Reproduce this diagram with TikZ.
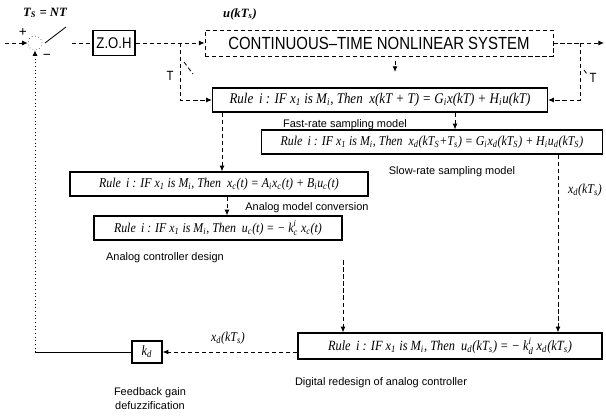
\documentclass[tikz,border=0pt]{standalone}
\usepackage{amsmath}
\usepackage{fontspec}
\setmainfont{Liberation Serif}
\setsansfont{Liberation Sans}
\newfontfamily\narrowsf[FakeStretch=0.85]{Liberation Sans}
\newfontfamily\narrowrm[FakeStretch=0.88]{Liberation Serif}
\usetikzlibrary{arrows.meta,positioning}
\newcommand\sbs[1]{\textsubscript{#1}}
\newcommand\gain[2]{$\text{k}^{\text{#2}}_{\text{#1}}$}
\newcommand\ifpart{Rule \,i : IF x\sbs{1} is M\sbs{i}, Then\ \ }

\begin{document}
\begin{tikzpicture}[x=0.025cm, y=-0.025cm,
		rule/.style={
			draw,
			line width=0.9pt,
			inner sep=0pt,
			minimum height=0.6cm,
			font=\narrowrm\fontsize{9.6}{11}\selectfont\itshape
		},
		lbl/.style={font=\sffamily\fontsize{7.8}{9}\selectfont, inner sep=0pt},
		var/.style={font=\narrowrm\itshape\fontsize{9.6}{11}\selectfont, inner sep=0pt},
		wire/.style={line width=0.6pt, densely dashed},
		arr/.style={wire, -{Latex[length=4pt, width=3.5pt]}}
		]
		\useasboundingbox (0,0) rectangle (606,415);
		
		% Summing point and sampler
		\node[circle, draw, dotted, minimum size=0.35cm, inner sep=0pt] (sum) at (35,43) {};
		\node[font=\bfseries\fontsize{10}{10}\selectfont] (plus) at (23,33) {+};
		\node[font=\bfseries\fontsize{10}{10}\selectfont] (minus) at (47,57) {−};
		\node[var, font=\bfseries\itshape\fontsize{9}{10}\selectfont] (tslbl) at (45,13) {T\sbs{S} = NT};
		
		% Top row
		\node[draw, line width=0.9pt, minimum width=1.05cm, minimum height=0.625cm, inner sep=0pt,
			font=\narrowsf\fontsize{11}{12}\selectfont] (zoh) at (114,43) {Z.O.H};
		\node[draw, densely dashed, line width=0.5pt, minimum width=8.7cm, minimum height=0.65cm,
			inner sep=0pt, font=\narrowsf\fontsize{12.5}{14}\selectfont] (plant) at (379,43)
		{CONTINUOUS–TIME NONLINEAR SYSTEM};
		\node[var, font=\bfseries\itshape\fontsize{9}{10}\selectfont] (ulbl) at (240,14) {u(kT\sbs{s})};
		
		% Rule boxes
		\node[rule, minimum width=8.375cm, font=\narrowrm\fontsize{10.5}{12}\selectfont\itshape] (fast) at (380,100)
		{\ifpart x(kT + T) = G\sbs{i}x(kT) + H\sbs{i}u(kT)};
		\node[rule, minimum width=8.525cm] (slow) at (432,142)
		{\ifpart x\sbs{d}(kT\sbs{S}+T\sbs{s}) = G\sbs{i}x\sbs{d}(kT\sbs{S}) + H\sbs{i}u\sbs{d}(kT\sbs{S})};
		\node[rule, minimum width=7.45cm] (model) at (219,184)
		{\ifpart x\sbs{c}(t) = A\sbs{i}x\sbs{c}(t) + B\sbs{i}u\sbs{c}(t)};
		\node[rule, minimum width=6.2cm] (ctrl) at (218,228)
		{\ifpart u\sbs{c}(t) = − \gain{c}{i}\ x\sbs{c}(t)};
		\node[rule, minimum width=7.6cm, minimum height=0.65cm, font=\narrowrm\fontsize{10}{11}\selectfont\itshape] (dig) at (450,346)
		{\ifpart u\sbs{d}(kT\sbs{s}) = − \gain{d}{i}\ x\sbs{d}(kT\sbs{s})};
		\node[draw, line width=0.9pt, minimum width=0.75cm, minimum height=0.55cm, inner sep=0pt,
			font=\narrowrm\itshape\fontsize{10}{11}\selectfont] (kd) at (147,352) {k\sbs{d}};
		
		% Labels
		\node[lbl] (fastlbl) at (345,125) {Fast-rate sampling model};
		\node[lbl] (slowlbl) at (452,172) {Slow-rate sampling model};
		\node[lbl] (convlbl) at (307,208) {Analog model conversion};
		\node[lbl] (desiglbl) at (165,258) {Analog controller design};
		\node[lbl] (diglbl) at (381,383) {Digital redesign of analog controller};
		\node[lbl, align=center] (gainlbl) at (150,399) {Feedback gain\\[1pt]defuzzification};
		\node[var] (xdlbl) at (585,190) {x\sbs{d}(kT\sbs{s})};
		\node[var] (xdlbl2) at (228,338) {x\sbs{d}(kT\sbs{s})};
		\node[font=\narrowsf\fontsize{9.5}{10}\selectfont] (tleft) at (170,76) {T};
		\node[font=\narrowsf\fontsize{9.5}{10}\selectfont] (tright) at (593,78) {T};
		
		% Junction points
		\coordinate (in) at (5,43);
		\coordinate (swa) at (45,43);
		\coordinate (swb) at (66,27);
		\coordinate (swc) at (72,43);
		\coordinate (ubr) at (180,43);
		\coordinate (ybr) at (580,43);
		\coordinate (out) at (604,43);
		\coordinate (fb) at (35,352);
		\coordinate (xa) at (395,0);
		\coordinate (xb) at (455,0);
		\coordinate (xc) at (222,0);
		\coordinate (xd) at (227,0);
		\coordinate (xe) at (343,0);
		\coordinate (xf) at (558,0);
		
		% Forward path
		\draw[arr] (in) -- (sum.west);
		\draw[line width=0.6pt] (swa) -- (swb);
		\draw[wire] (swc) -- (zoh.west);
		\draw[arr] (zoh.east) -- (plant.west);
		\draw[wire] (plant.east) -- (ybr);
		\draw[arr] (ybr) -- (out);
		
		% Samplers T
		\draw[arr] (ubr) |- (fast.west);
		\draw[arr] (ybr) |- (fast.east);
		\draw[wire] (184,62) -- (193,74);
		\draw[wire] (584,70) -- (587,74);
		
		% Model chain
		\draw[arr, shorten <=3pt, shorten >=11pt] (plant.south -| xa) -- (fast.north -| xa);
		\draw[arr] (fast.south -| xb) -- (slow.north -| xb);
		\draw[arr] (fast.south -| xc) -- (model.north -| xc);
		\draw[arr] (model.south -| xd) -- (ctrl.north -| xd);
		\draw[arr, shorten <=14pt] (ctrl.south -| xe) -- (dig.north -| xe);
		\draw[arr] (slow.south -| xf) -- (dig.north -| xf);
		
		% Feedback
		\draw[arr] (dig.west |- kd.east) -- (kd.east);
		\draw[line width=0.6pt] (kd.west) -- (fb);
		\draw[line width=0.6pt, dotted, -{Latex[length=4pt, width=3.5pt]}] (fb) -- (sum.south);
		
	\end{tikzpicture}
\end{document}
